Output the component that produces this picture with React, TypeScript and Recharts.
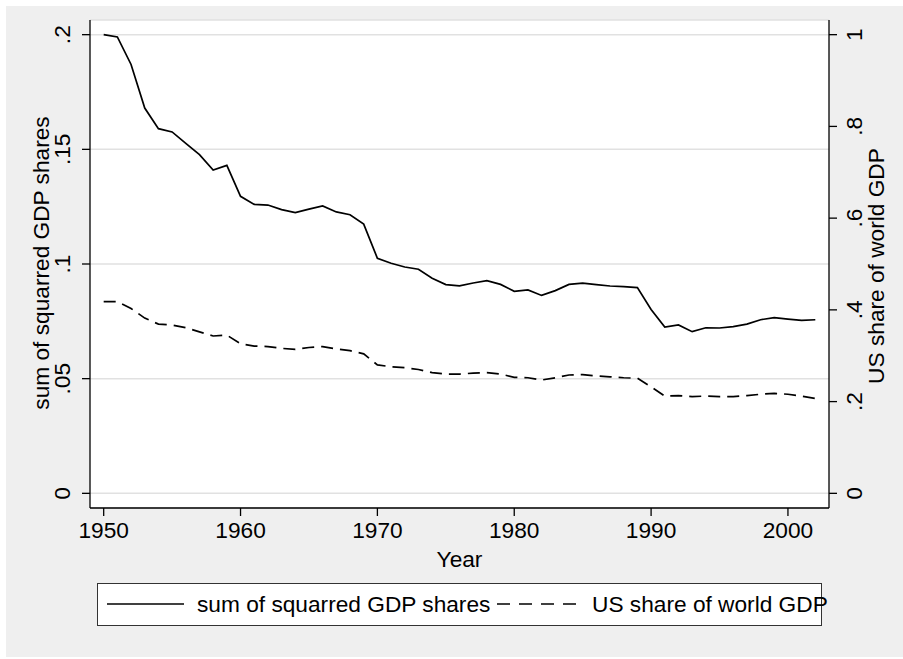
import React from 'react';
import { LineChart, Line, XAxis, YAxis, CartesianGrid } from 'recharts';

const years = [
  1950, 1951, 1952, 1953, 1954, 1955, 1956, 1957, 1958, 1959,
  1960, 1961, 1962, 1963, 1964, 1965, 1966, 1967, 1968, 1969,
  1970, 1971, 1972, 1973, 1974, 1975, 1976, 1977, 1978, 1979,
  1980, 1981, 1982, 1983, 1984, 1985, 1986, 1987, 1988, 1989,
  1990, 1991, 1992, 1993, 1994, 1995, 1996, 1997, 1998, 1999,
  2000, 2001, 2002,
];

const sumSquaredShares = [
  0.2, 0.199, 0.187, 0.168, 0.159, 0.1576, 0.1526, 0.1477, 0.141, 0.143,
  0.1295, 0.126, 0.1257, 0.1237, 0.1224, 0.1239, 0.1253, 0.1227, 0.1215, 0.1174,
  0.1025, 0.1003, 0.0987, 0.0977, 0.0938, 0.091, 0.0905, 0.0917, 0.0927, 0.0911,
  0.0881, 0.0887, 0.0863, 0.0884, 0.0911, 0.0917, 0.091, 0.0904, 0.0901, 0.0897,
  0.0802, 0.0725, 0.0734, 0.0705, 0.0722, 0.0721, 0.0727, 0.0738, 0.0757, 0.0766,
  0.076, 0.0754, 0.0757,
];

const usShare = [
  0.418, 0.418, 0.403, 0.382, 0.369, 0.367, 0.361, 0.352, 0.343, 0.345,
  0.326, 0.321, 0.32, 0.316, 0.314, 0.318, 0.32, 0.315, 0.311, 0.304,
  0.28, 0.276, 0.274, 0.27, 0.263, 0.26, 0.26, 0.262, 0.263, 0.26,
  0.253, 0.252, 0.247, 0.252, 0.258, 0.259, 0.256, 0.254, 0.252, 0.251,
  0.232, 0.212, 0.213, 0.211, 0.212, 0.211, 0.211, 0.213, 0.216, 0.218,
  0.216, 0.212, 0.207,
];

const xTicks = [1950, 1960, 1970, 1980, 1990, 2000];
const leftTicks = [0, 0.05, 0.1, 0.15, 0.2];
const leftTickLabels = ['0', '.05', '.1', '.15', '.2'];
const rightTicks = [0, 0.2, 0.4, 0.6, 0.8, 1];
const rightTickLabels = ['0', '.2', '.4', '.6', '.8', '1'];

const sumLabel = 'sum of squarred GDP shares';
const usLabel = 'US share of world GDP';

const data = years.map((year, i) => ({
  year,
  sumSq: sumSquaredShares[i],
  us: usShare[i],
}));

const FONT = '"Liberation Sans", Arial, Helvetica, sans-serif';
const FS = 22.7;

const LeftTick = (props: any) => {
  const { y, index } = props;
  return (
    <text x={70} y={y} transform={`rotate(-90, 70, ${y})`} textAnchor="middle"
      fontFamily={FONT} fontSize={FS} fill="#000">
      {leftTickLabels[index]}
    </text>
  );
};

const RightTick = (props: any) => {
  const { y, index } = props;
  return (
    <text x={862} y={y} transform={`rotate(-90, 862, ${y})`} textAnchor="middle"
      fontFamily={FONT} fontSize={FS} fill="#000">
      {rightTickLabels[index]}
    </text>
  );
};

const BottomTick = (props: any) => {
  const { x, payload } = props;
  return (
    <text x={x} y={538} textAnchor="middle" fontFamily={FONT} fontSize={FS} fill="#000">
      {payload.value}
    </text>
  );
};

export default function App() {
  return (
    <div style={{ position: 'absolute', left: 0, top: 0, width: 903, height: 659, background: '#fff' }}>
      <div style={{ position: 'absolute', left: 6, top: 6, width: 897, height: 651, background: '#efefef' }} />
      <div style={{ position: 'absolute', left: 0, top: 0 }}>
        <LineChart width={903} height={659} data={data} margin={{ top: 20, right: 0, bottom: 0, left: 0 }}>
          <CartesianGrid yAxisId="left" vertical={false} horizontal stroke="#e1e1e1" strokeWidth={1.5}
            fill="#fff" fillOpacity={1} />
          <XAxis dataKey="year" type="number" domain={[1949, 2003]} ticks={xTicks} height={151}
            allowDataOverflow tick={<BottomTick />} tickSize={8}
            axisLine={{ stroke: '#000', strokeWidth: 1.3 }} tickLine={{ stroke: '#000', strokeWidth: 1.3 }}
            label={{
              content: () => (
                <text x={459.5} y={567} textAnchor="middle" fontFamily={FONT} fontSize={FS} fill="#000">Year</text>
              ),
            }} />
          <YAxis yAxisId="left" orientation="left" width={90} domain={[-0.0064, 0.2064]} ticks={leftTicks}
            allowDataOverflow tick={<LeftTick />} tickSize={8} interval={0}
            axisLine={{ stroke: '#000', strokeWidth: 1.3 }} tickLine={{ stroke: '#000', strokeWidth: 1.3 }}
            label={{
              content: () => (
                <text x={49} y={263} transform="rotate(-90, 49, 263)" textAnchor="middle"
                  fontFamily={FONT} fontSize={FS} fill="#000">{sumLabel}</text>
              ),
            }} />
          <YAxis yAxisId="right" orientation="right" width={74} domain={[-0.032, 1.032]} ticks={rightTicks}
            allowDataOverflow tick={<RightTick />} tickSize={8} interval={0}
            axisLine={{ stroke: '#000', strokeWidth: 1.3 }} tickLine={{ stroke: '#000', strokeWidth: 1.3 }}
            label={{
              content: () => (
                <text x={884} y={266} transform="rotate(-90, 884, 266)" textAnchor="middle"
                  fontFamily={FONT} fontSize={FS} fill="#000">{usLabel}</text>
              ),
            }} />
          <Line yAxisId="left" type="linear" dataKey="sumSq" stroke="#000" strokeWidth={1.7}
            dot={false} activeDot={false} isAnimationActive={false} />
          <Line yAxisId="right" type="linear" dataKey="us" stroke="#000" strokeWidth={1.7}
            strokeDasharray="12 7" dot={false} activeDot={false} isAnimationActive={false} />
        </LineChart>
      </div>
      <div style={{ position: 'absolute', left: 97, top: 583, width: 725, height: 43,
        background: '#fff', border: '1.3px solid #333', boxSizing: 'border-box' }} />
      <svg width={903} height={659} style={{ position: 'absolute', left: 0, top: 0, overflow: 'visible' }}>
        <line x1={107} y1={604} x2={184} y2={604} stroke="#000" strokeWidth={1.7} />
        <text x={197} y={612} fontFamily={FONT} fontSize={FS} fill="#000">{sumLabel}</text>
        <line x1={497} y1={604} x2={578} y2={604} stroke="#000" strokeWidth={1.7} strokeDasharray="13 9" />
        <text x={592} y={612} fontFamily={FONT} fontSize={FS} fill="#000">{usLabel}</text>
      </svg>
    </div>
  );
}
